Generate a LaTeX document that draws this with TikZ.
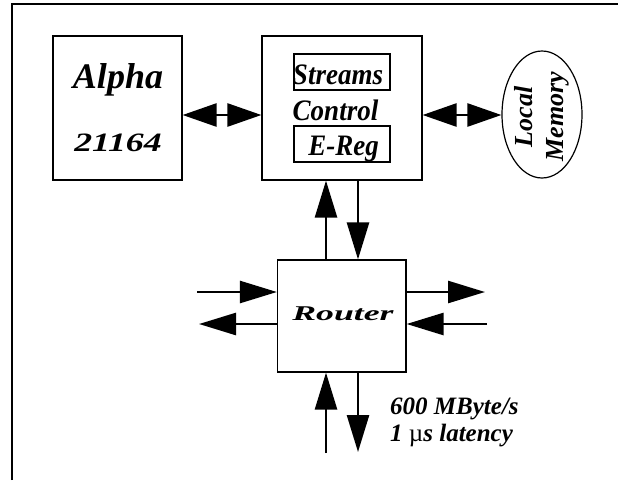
\documentclass[tikz,border=0pt]{standalone}
\usepackage{fontspec}
\usepackage{graphicx}
\setmainfont{Liberation Serif}
\usetikzlibrary{arrows.meta,shapes.geometric}
\begin{document}
\begin{tikzpicture}[x=1pt,y=-1pt,
  box/.style={draw,line width=1.2pt,inner sep=0pt},
  lbl/.style={inner sep=0pt,anchor=base},
  arr/.style={line width=2.6pt,-{Triangle[length=37pt,width=22pt]}},
  dbl/.style={line width=2.6pt,{Triangle[length=34pt,width=23pt]}-{Triangle[length=34pt,width=23pt]}}]
\useasboundingbox (0,0) rectangle (618,480);
% frame
\draw[line width=1.2pt] (12,480) -- (12,4) -- (618,4);
% boxes
\node[box,minimum width=129pt,minimum height=144pt] (alpha) at (117.5,108) {};
\node[box,minimum width=160pt,minimum height=144pt] (ctrl) at (342,108) {};
\node[box,minimum width=96pt,minimum height=36pt] (streams) at (342,72) {};
\node[box,minimum width=96pt,minimum height=36pt] (ereg) at (342,144) {};
\node[box,ellipse,minimum width=80pt,minimum height=127pt] (mem) at (542,114.5) {};
\node[box,minimum width=128.5pt,minimum height=112pt] (router) at (341.75,316) {};
% texts
\node[lbl] (talpha) at (118,88) {\fontsize{36}{40}\selectfont\bfseries\itshape Alpha};
\node[lbl] (tnum) at (118,151) {\fontsize{26.5}{30}\selectfont\bfseries\itshape\scalebox{1.35}[1]{21164}};
\node[lbl] (tstreams) at (338,84) {\fontsize{27}{30}\selectfont\bfseries\itshape\scalebox{1}[1.1]{Streams}};
\node[lbl] (tcontrol) at (335.5,120) {\fontsize{27}{30}\selectfont\bfseries\itshape\scalebox{1}[1.1]{Control}};
\node[lbl] (tereg) at (343.5,155) {\fontsize{27}{30}\selectfont\bfseries\itshape\scalebox{1}[1.1]{E-Reg}};
\node[lbl,rotate=90] (tlocal) at (532,116.7) {\fontsize{26}{30}\selectfont\bfseries\itshape Local};
\node[lbl,rotate=90] (tmemory) at (563,116.7) {\fontsize{26}{30}\selectfont\bfseries\itshape Memory};
\node[lbl] (trouter) at (343,320) {\fontsize{21}{24}\selectfont\bfseries\itshape\scalebox{1.7}[1]{Router}};
\node[inner sep=0pt,anchor=base west] (tbw) at (390,414) {\fontsize{25}{27}\selectfont\bfseries\itshape 600 MByte/s};
\node[inner sep=0pt,anchor=base west] (tlat) at (390,441) {\fontsize{25}{27}\selectfont\bfseries\itshape 1 {\normalfont µ}s latency};
% helper coordinates
\coordinate (xa) at (326,0);
\coordinate (xb) at (358,0);
\coordinate (ym) at (0,115);
\coordinate (lin) at (197,292);
\coordinate (lout) at (199,324);
\coordinate (rout) at (485,292);
\coordinate (rin) at (487,324);
\coordinate (bup) at (326,453);
\coordinate (bdown) at (358,452);
% connectors
\draw[dbl] (alpha.east |- ym) -- (ctrl.west |- ym);
\draw[dbl] (ctrl.east |- ym) -- (mem.west |- ym);
\draw[arr] (router.north -| xa) -- (ctrl.south -| xa);
\draw[arr] (ctrl.south -| xb) -- (router.north -| xb);
\draw[arr] (lin) -- (router.west |- lin);
\draw[arr] (router.west |- lout) -- (lout);
\draw[arr] (router.east |- rout) -- (rout);
\draw[arr] (rin) -- (router.east |- rin);
\draw[arr] (bup) -- (router.south -| bup);
\draw[arr] (router.south -| bdown) -- (bdown);
\end{tikzpicture}
\end{document}
